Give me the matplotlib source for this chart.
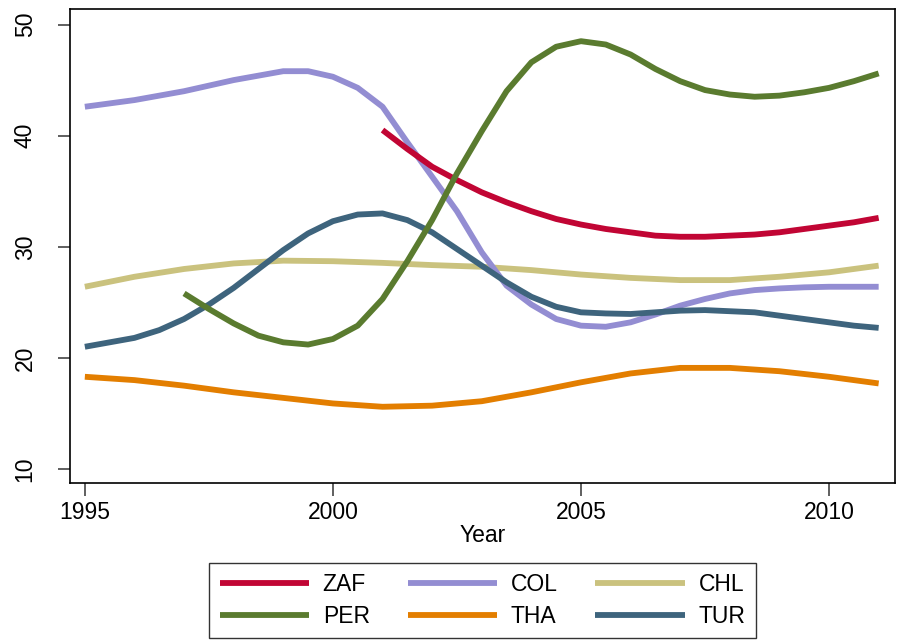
import numpy as np
import matplotlib
matplotlib.use("Agg")
import matplotlib.pyplot as plt

# smoothed series per country
years_zaf = [2001, 2001.5, 2002, 2002.5, 2003, 2003.5, 2004, 2004.5, 2005, 2005.5, 2006,
             2006.5, 2007, 2007.5, 2008, 2008.5, 2009, 2009.5, 2010, 2010.5, 2011]
zaf = [40.5, 38.8, 37.2, 36.0, 34.9, 34.0, 33.2, 32.5, 32.0, 31.6, 31.3,
       31.0, 30.9, 30.9, 31.0, 31.1, 31.3, 31.6, 31.9, 32.2, 32.6]

years_full = [1995, 1995.5, 1996, 1996.5, 1997, 1997.5, 1998, 1998.5, 1999, 1999.5, 2000,
              2000.5, 2001, 2001.5, 2002, 2002.5, 2003, 2003.5, 2004, 2004.5, 2005,
              2005.5, 2006, 2006.5, 2007, 2007.5, 2008, 2008.5, 2009, 2009.5, 2010,
              2010.5, 2011]
col = [42.6, 42.9, 43.2, 43.6, 44.0, 44.5, 45.0, 45.4, 45.8, 45.8, 45.3,
       44.3, 42.6, 39.4, 36.3, 33.2, 29.5, 26.5, 24.8, 23.5, 22.9,
       22.8, 23.2, 23.9, 24.7, 25.3, 25.8, 26.1, 26.25, 26.35, 26.4,
       26.4, 26.4]
tur = [21.0, 21.4, 21.8, 22.5, 23.5, 24.8, 26.3, 28.0, 29.7, 31.2, 32.3,
       32.9, 33.0, 32.4, 31.3, 29.8, 28.3, 26.8, 25.5, 24.6, 24.1,
       24.0, 23.95, 24.1, 24.25, 24.3, 24.2, 24.1, 23.8, 23.5, 23.2,
       22.9, 22.7]

years_per = [1997, 1997.5, 1998, 1998.5, 1999, 1999.5, 2000, 2000.5, 2001, 2001.5, 2002,
             2002.5, 2003, 2003.5, 2004, 2004.5, 2005, 2005.5, 2006, 2006.5, 2007,
             2007.5, 2008, 2008.5, 2009, 2009.5, 2010, 2010.5, 2011]
per = [25.8, 24.4, 23.1, 22.0, 21.4, 21.2, 21.7, 22.9, 25.3, 28.7, 32.4,
       36.6, 40.4, 44.0, 46.6, 48.0, 48.5, 48.2, 47.3, 46.0, 44.9,
       44.1, 43.7, 43.5, 43.6, 43.9, 44.3, 44.9, 45.6]

years = [1995, 1996, 1997, 1998, 1999, 2000, 2001, 2002, 2003, 2004, 2005,
         2006, 2007, 2008, 2009, 2010, 2011]
chl = [26.4, 27.3, 28.0, 28.5, 28.75, 28.7, 28.55, 28.35, 28.2, 27.9, 27.5,
       27.2, 27.0, 27.0, 27.3, 27.7, 28.3]
tha = [18.3, 18.0, 17.5, 16.9, 16.4, 15.9, 15.6, 15.7, 16.1, 16.9, 17.8,
       18.6, 19.1, 19.1, 18.8, 18.3, 17.7]

xticks = [1995, 2000, 2005, 2010]
yticks = [10, 20, 30, 40, 50]

plt.rcParams['font.family'] = ['Liberation Sans', 'DejaVu Sans']

fig = plt.figure(figsize=(8.97, 6.40), dpi=100)
ax = fig.add_axes([0.078, 0.2453, 0.9198, 0.7407])

lw = 4.2
series = [
    ("ZAF", years_zaf, zaf, "#C10534"),
    ("PER", years_per, per, "#5A7B2F"),
    ("COL", years_full, col, "#938DD2"),
    ("THA", years, tha, "#E37E00"),
    ("CHL", years, chl, "#CAC27E"),
    ("TUR", years_full, tur, "#3E647D"),
]
# draw order: back to front
for name in ["CHL", "THA", "COL", "TUR", "ZAF", "PER"]:
    for n, x, y, c in series:
        if n == name:
            ax.plot(x, y, color=c, lw=lw, solid_capstyle='butt', zorder=2)

ax.set_xlim(1994.7, 2011.33)
ax.set_ylim(8.74, 51.4)
ax.set_xticks(xticks)
ax.set_yticks(yticks)
ax.tick_params(axis='both', direction='out', length=9, width=1.2,
               color='#444444', labelsize=16.5)
ax.tick_params(axis='x', pad=4)
ax.tick_params(axis='y', pad=15, labelrotation=90)
for lab in ax.get_yticklabels():
    lab.set_va('center')
for sp in ax.spines.values():
    sp.set_linewidth(1.2)
    sp.set_color('black')

ax.set_xlabel("Year", fontsize=16.5, labelpad=0)

handles = []
labels = []
for n, x, y, c in series:
    h, = ax.plot([], [], color=c, lw=lw, solid_capstyle='butt')
    handles.append(h)
    labels.append(n)

leg = fig.legend(handles, labels, ncol=3, loc='center',
                 bbox_to_anchor=(482.5 / 897, 1 - 600.5 / 640),
                 fontsize=16.5, frameon=True, fancybox=False,
                 handlelength=3.9, handletextpad=0.6, columnspacing=1.65,
                 labelspacing=0.4, borderpad=0.45)
leg.get_frame().set_edgecolor('black')
leg.get_frame().set_linewidth(1.0)

fig.savefig("out.png", dpi=100)
